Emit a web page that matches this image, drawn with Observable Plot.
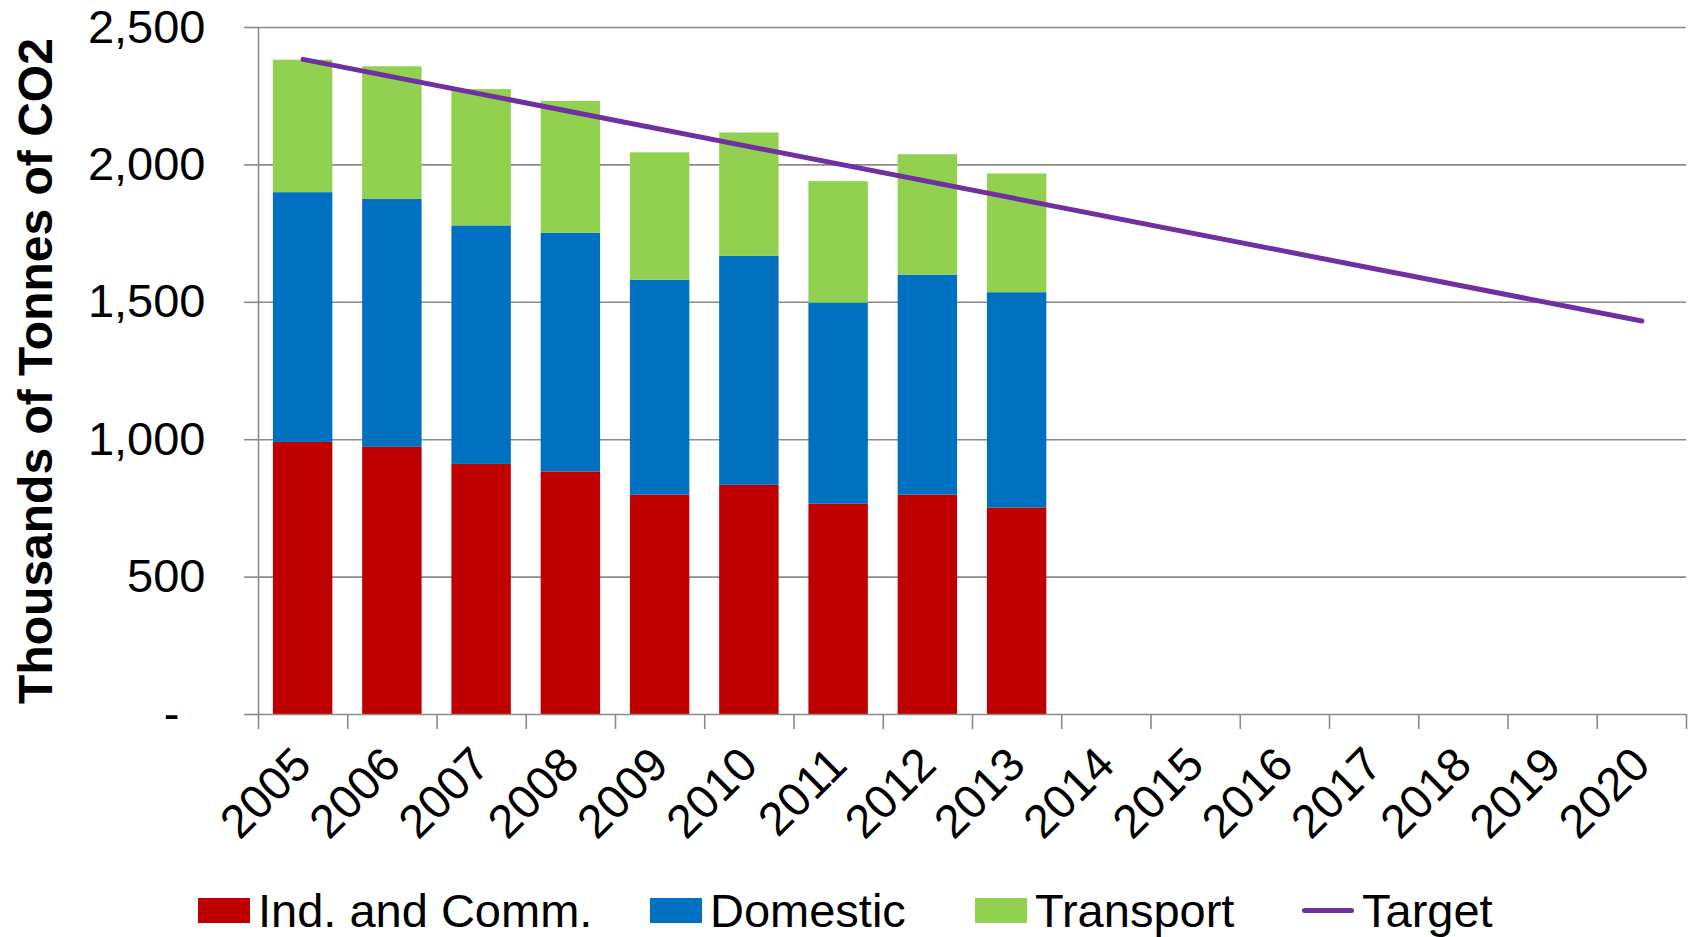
<!DOCTYPE html>
<html>
<head>
<meta charset="utf-8">
<script src="https://cdn.jsdelivr.net/npm/d3@7"></script>
<script src="https://cdn.jsdelivr.net/npm/@observablehq/plot@0.6"></script>
<style>
  html, body { margin: 0; padding: 0; background: #fff; }
  #wrap { position: relative; width: 1692px; height: 937px; font-family: "Liberation Sans", Arial, sans-serif; }
  .item { position: absolute; top: 884px; height: 52px; display: flex; align-items: center; font-size: 47px; color: #000; white-space: nowrap; }
  .sw { width: 52px; height: 25px; margin-right: 8px; }
  .ln { width: 52px; height: 5px; border-radius: 3px; margin-right: 8px; }
</style>
</head>
<body>
<div id="wrap"></div>
<script>
// ---- data ----
const years = [2005, 2006, 2007, 2008, 2009, 2010, 2011, 2012, 2013];
const indComm = [990, 972, 910, 883, 798, 834, 765, 798, 752];
const domestic = [909, 902, 868, 868, 782, 833, 732, 801, 783];
const transport = [482, 483, 496, 480, 464, 449, 442, 438, 432];
const targetYears = [2005, 2020];
const targetValues = [2384, 1432];
const axisYears = [2005, 2006, 2007, 2008, 2009, 2010, 2011, 2012, 2013, 2014, 2015, 2016, 2017, 2018, 2019, 2020];
const yTicks = [0, 500, 1000, 1500, 2000, 2500];
const seriesNames = ["Ind. and Comm.", "Domestic", "Transport"];
const seriesColors = ["#C00000", "#0070C0", "#92D050"];
const targetColor = "#7030A0";

// ---- tables built from arrays ----
const seriesValues = [indComm, domestic, transport];
const rows = [];
years.forEach((yr, i) => seriesNames.forEach((s, j) => rows.push({year: yr, series: s, value: seriesValues[j][i]})));
const target = targetYears.map((yr, i) => ({year: yr, value: targetValues[i]}));
const boundaries = [axisYears[0] - 0.5, ...axisYears.map(y => y + 0.5)];
const half = 0.333;
const gray = "#8a8a8a";

const chart = Plot.plot({
  width: 1692,
  height: 880,
  marginTop: 27,
  marginBottom: 166,
  marginLeft: 258,
  marginRight: 6,
  style: {fontFamily: '"Liberation Sans", Arial, sans-serif', fontSize: "47px", color: "#000", background: "#fff"},
  x: {domain: [axisYears[0] - 0.5, axisYears[axisYears.length - 1] + 0.5]},
  y: {domain: [0, 2500]},
  color: {domain: seriesNames, range: seriesColors},
  marks: [
    Plot.gridY({ticks: yTicks.slice(1), stroke: gray, strokeOpacity: 1, strokeWidth: 1.6}),
    Plot.rectY(rows, {x1: d => d.year - half, x2: d => d.year + half, y: "value", fill: "series"}),
    Plot.ruleY([0], {stroke: gray, strokeWidth: 1.6}),
    Plot.ruleX([boundaries[0]], {stroke: gray, strokeWidth: 1.6}),
    Plot.axisY({ticks: yTicks, tickSize: 14, tickPadding: 39, stroke: gray, strokeWidth: 1.6, fill: "#000", fontSize: 47,
      tickFormat: d => d === 0 ? "-\u00a0\u00a0" : d3.format(",")(d), label: null}),
    Plot.axisX({ticks: boundaries, tickSize: 15, stroke: gray, strokeWidth: 1.6, tickFormat: () => "", label: null}),
    Plot.axisX({ticks: axisYears, tickSize: 0, tickPadding: 42, tickRotate: -45, fill: "#000", fontSize: 47,
      tickFormat: d => String(d), label: null}),
    Plot.lineY(target, {x: "year", y: "value", stroke: targetColor, strokeWidth: 5, strokeLinecap: "round"}),
    Plot.text(["Thousands of Tonnes of CO2"], {frameAnchor: "left", textAnchor: "middle", dx: -222, rotate: -90, fontSize: 48, fontWeight: "bold", fill: "#000"})
  ]
});

const wrap = document.getElementById("wrap");
wrap.appendChild(chart);

// legend (HTML, below the SVG)
const legendItems = [
  {label: seriesNames[0], color: seriesColors[0], kind: "sw", left: 198},
  {label: seriesNames[1], color: seriesColors[1], kind: "sw", left: 650},
  {label: seriesNames[2], color: seriesColors[2], kind: "sw", left: 975},
  {label: "Target", color: targetColor, kind: "ln", left: 1302}
];
legendItems.forEach(it => {
  const d = document.createElement("div");
  d.className = "item";
  d.style.left = it.left + "px";
  const s = document.createElement("span");
  s.className = it.kind;
  s.style.background = it.color;
  d.appendChild(s);
  d.appendChild(document.createTextNode(it.label));
  wrap.appendChild(d);
});
</script>
</body>
</html>
